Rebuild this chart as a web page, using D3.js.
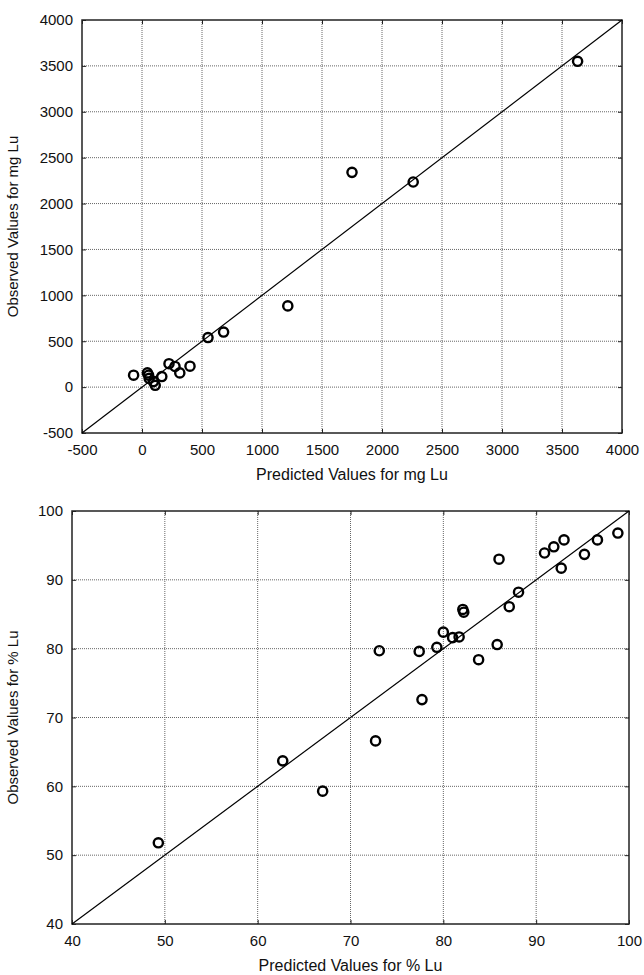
<!doctype html>
<html lang="en">
<head>
  <meta charset="utf-8">
  <title>Observed vs Predicted Lu</title>
  <style>
    body { margin: 0; background: #fff; }
    svg { display: block; font-family: "Liberation Sans", Arial, sans-serif; }
  </style>
</head>
<body>
<svg id="chart" width="644" height="975" viewBox="0 0 644 975"></svg>

<script src="https://d3js.org/d3.v7.min.js"></script>
<script type="text/javascript">
// top panel: mg Lu
const massTicks = [-500, 0, 500, 1000, 1500, 2000, 2500, 3000, 3500, 4000];
const massPredicted = [-70, 45, 55, 60, 95, 110, 165, 225, 275, 315, 400, 550, 680, 1215, 1750, 2260, 3630];
const massObserved  = [130, 155, 130, 95, 60, 20, 115, 255, 225, 155, 228, 540, 600, 885, 2340, 2235, 3550];

// bottom panel: % Lu
const pctTicks = [40, 50, 60, 70, 80, 90, 100];
const pctPredicted = [49.3, 62.7, 67.0, 72.7, 77.7, 73.1, 77.4, 79.3, 80.0, 81.0, 81.7, 82.1, 82.2, 83.8, 85.8,
                      86.0, 87.1, 88.1, 90.9, 91.9, 93.0, 92.7, 95.2, 96.6, 98.8];
const pctObserved  = [51.8, 63.7, 59.3, 66.6, 72.6, 79.7, 79.6, 80.2, 82.4, 81.6, 81.7, 85.7, 85.3, 78.4, 80.6,
                      93.0, 86.1, 88.2, 93.9, 94.8, 95.8, 91.7, 93.7, 95.8, 96.8];

const svg = d3.select('#chart');

function drawPanel(cfg) {
  const { left, right, top, bottom } = cfg.box;
  const x = d3.scaleLinear().domain(d3.extent(cfg.ticks)).range([left, right]);
  const y = d3.scaleLinear().domain(d3.extent(cfg.ticks)).range([bottom, top]);
  const g = svg.append('g');

  // dotted grid
  const inner = cfg.ticks.slice(1, -1);
  g.append('g').selectAll('line.gx').data(inner).join('line')
    .attr('x1', d => x(d)).attr('x2', d => x(d))
    .attr('y1', top).attr('y2', bottom)
    .attr('stroke', '#666').attr('stroke-width', 1).attr('stroke-dasharray', '1,1');
  g.append('g').selectAll('line.gy').data(inner).join('line')
    .attr('y1', d => y(d)).attr('y2', d => y(d))
    .attr('x1', left).attr('x2', right)
    .attr('stroke', '#666').attr('stroke-width', 1).attr('stroke-dasharray', '1,1');

  // axes, ticks pointing inward; plain hyphen for negatives like the original
  const fmt = d => String(d);
  const styleAxis = sel => {
    sel.select('.domain').remove();
    sel.selectAll('line').attr('stroke', '#222');
    sel.selectAll('text').attr('fill', '#111').style('font-size', '15px')
      .style('font-family', '"Liberation Sans", Arial, sans-serif');
  };
  g.append('g').attr('transform', `translate(0,${bottom})`)
    .call(d3.axisBottom(x).tickValues(cfg.ticks).tickFormat(fmt).tickSize(-4).tickPadding(11))
    .call(styleAxis);
  g.append('g').attr('transform', `translate(${left},0)`)
    .call(d3.axisLeft(y).tickValues(cfg.ticks).tickFormat(fmt).tickSize(-4).tickPadding(9))
    .call(styleAxis);
  g.append('g').attr('transform', `translate(0,${top})`)
    .call(d3.axisTop(x).tickValues(cfg.ticks).tickFormat('').tickSize(-4))
    .call(styleAxis);
  g.append('g').attr('transform', `translate(${right},0)`)
    .call(d3.axisRight(y).tickValues(cfg.ticks).tickFormat('').tickSize(-4))
    .call(styleAxis);

  // frame
  g.append('rect')
    .attr('x', left).attr('y', top)
    .attr('width', right - left).attr('height', bottom - top)
    .attr('fill', 'none').attr('stroke', '#222').attr('stroke-width', 1.5);

  // identity line
  const line = d3.line().x(d => x(d)).y(d => y(d));
  g.append('path')
    .datum(d3.extent(cfg.ticks))
    .attr('fill', 'none').attr('stroke', '#000').attr('stroke-width', 1.2)
    .attr('d', line);

  // points
  const pts = cfg.pred.map((p, i) => ({ p, o: cfg.obs[i] }));
  g.append('g').selectAll('circle').data(pts).join('circle')
    .attr('cx', d => x(d.p)).attr('cy', d => y(d.o))
    .attr('r', 4.6)
    .attr('fill', 'none').attr('stroke', '#000').attr('stroke-width', 2.4);

  // titles
  g.append('text')
    .attr('x', (left + right) / 2).attr('y', cfg.xTitleY)
    .attr('text-anchor', 'middle').style('font-size', '16px').attr('fill', '#111')
    .text(cfg.xTitle);
  g.append('text')
    .attr('transform', `translate(18,${(top + bottom) / 2}) rotate(-90)`)
    .attr('text-anchor', 'middle').style('font-size', '15px').attr('fill', '#111')
    .text(cfg.yTitle);
}

drawPanel({
  box: { left: 82, right: 622, top: 20, bottom: 433 },
  ticks: massTicks,
  pred: massPredicted,
  obs: massObserved,
  xTitle: 'Predicted Values for mg Lu',
  yTitle: 'Observed Values for mg Lu',
  xTitleY: 480,
});

drawPanel({
  box: { left: 72, right: 629, top: 511, bottom: 924 },
  ticks: pctTicks,
  pred: pctPredicted,
  obs: pctObserved,
  xTitle: 'Predicted Values for % Lu',
  yTitle: 'Observed Values for % Lu',
  xTitleY: 971,
});
</script>
</body>
</html>
